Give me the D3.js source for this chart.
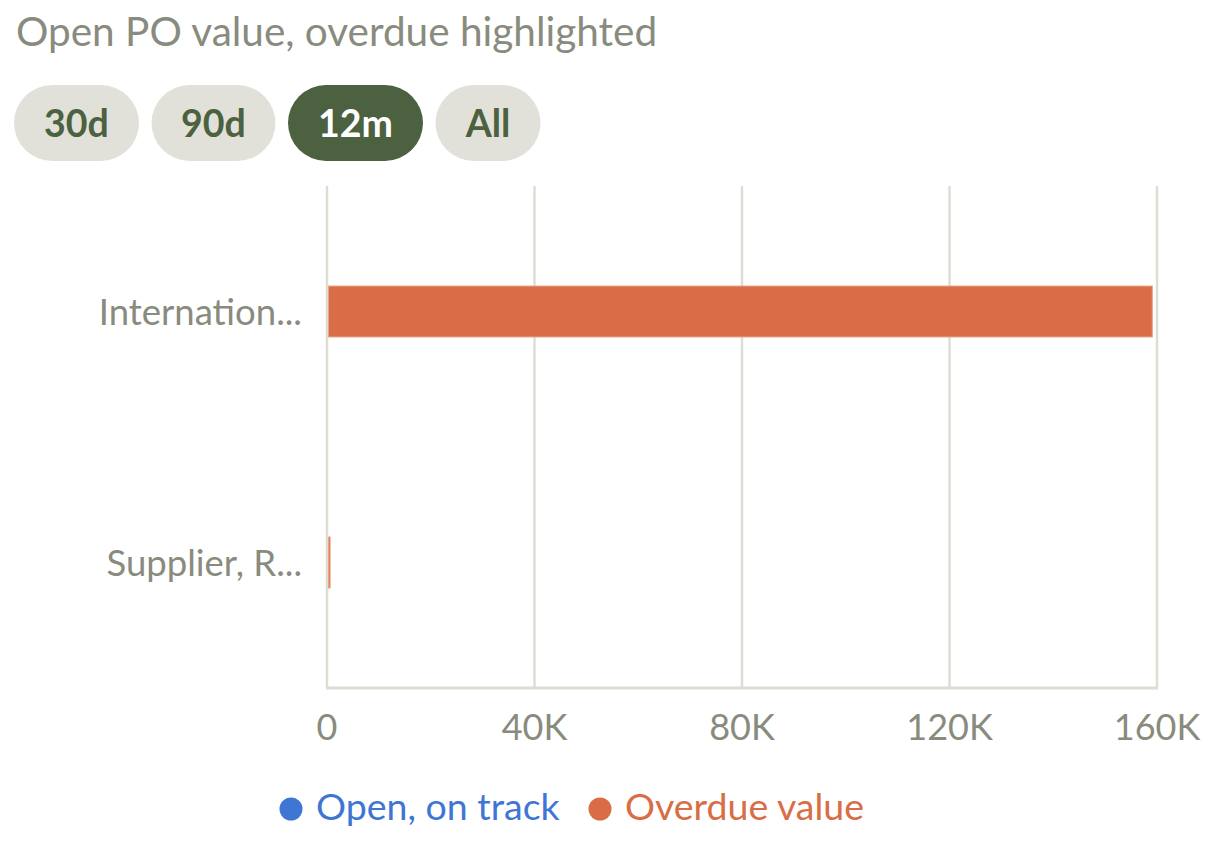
<!DOCTYPE html>
<html>
<head>
<meta charset="utf-8">
<script src="https://cdn.jsdelivr.net/npm/d3@7"></script>
<style>
  html, body { margin: 0; padding: 0; background: #ffffff; }
  svg { display: block; font-family: Lato, "Open Sans", sans-serif; }
</style>
</head>
<body>
<svg id="chart" width="1216" height="850"></svg>
<script>
const title = "Open PO value, overdue highlighted";
const ranges = ["30d", "90d", "12m", "All"];
const activeRange = "12m";
const categories = ["Internation...", "Supplier, R..."];
const openOnTrack = [0, 0];
const overdueValue = [159000, 500];
const xTicks = [0, 40000, 80000, 120000, 160000];
const xTickLabels = ["0", "40K", "80K", "120K", "160K"];
const seriesNames = ["Open, on track", "Overdue value"];
const seriesColors = ["#3f76d4", "#d96d45"];

const svg = d3.select("#chart");
const gridColor = "#deddd3";
const textGrey = "#888b7d";

// Title
svg.append("text").attr("x", 16).attr("y", 46)
  .attr("font-size", 40.5).attr("fill", textGrey).text(title);

// Range pills
const pillWidths = [125, 124, 135, 105];
let px = 14;
ranges.forEach((r, i) => {
  const w = pillWidths[i];
  const active = r === activeRange;
  svg.append("rect").attr("x", px).attr("y", 85).attr("width", w).attr("height", 76)
    .attr("rx", 38).attr("fill", active ? "#4b6140" : "#e2e1d9");
  svg.append("text").attr("x", px + w / 2).attr("y", 137).attr("text-anchor", "middle")
    .attr("font-size", 37.5).attr("font-weight", 700)
    .attr("fill", active ? "#ffffff" : "#4b6140").text(r);
  px += w + 12.5;
});

// Scales
const x = d3.scaleLinear().domain([0, 160000]).range([327, 1157]);
const y = d3.scaleBand().domain(categories).range([186, 688]).padding(0);
const barH = y.bandwidth() * 0.203;

// Grid lines
svg.append("g").selectAll("line").data(xTicks).join("line")
  .attr("x1", d => x(d)).attr("x2", d => x(d))
  .attr("y1", 186).attr("y2", 688)
  .attr("stroke", gridColor).attr("stroke-width", 2.5);

// Bottom axis line
svg.append("line").attr("x1", x(0) - 1).attr("x2", x(160000) + 1)
  .attr("y1", 688).attr("y2", 688).attr("stroke", gridColor).attr("stroke-width", 3);

// Bars (stacked: open then overdue)
const rows = categories.map((c, i) => ({ c, open: openOnTrack[i], over: overdueValue[i] }));
svg.append("g").selectAll("rect.open").data(rows).join("rect")
  .attr("x", d => x(0) + 1)
  .attr("y", d => y(d.c) + y.bandwidth() / 2 - barH / 2)
  .attr("width", d => Math.max(0, x(d.open) - x(0)))
  .attr("height", barH)
  .attr("fill", seriesColors[0]);
svg.append("g").selectAll("rect.over").data(rows).join("rect")
  .attr("x", d => x(d.open) + 1.5)
  .attr("y", d => y(d.c) + y.bandwidth() / 2 - barH / 2)
  .attr("width", d => Math.max(1.5, x(d.open + d.over) - x(d.open) - 1))
  .attr("height", barH)
  .attr("fill", seriesColors[1])
  .attr("stroke", "#eba486").attr("stroke-width", 1);

// Y labels
svg.append("g").selectAll("text").data(categories).join("text")
  .attr("x", 302).attr("y", d => y(d) + y.bandwidth() / 2)
  .attr("dy", "0.36em").attr("text-anchor", "end")
  .attr("font-size", 36.5).attr("fill", textGrey).text(d => d);

// X tick labels
svg.append("g").selectAll("text").data(xTicks).join("text")
  .attr("x", d => x(d)).attr("y", 740).attr("text-anchor", "middle")
  .attr("font-size", 36).attr("fill", textGrey).text((d, i) => xTickLabels[i]);

// Legend
const legendX = [291, 600];
seriesNames.forEach((s, i) => {
  svg.append("circle").attr("cx", legendX[i]).attr("cy", 809).attr("r", 11.5)
    .attr("fill", seriesColors[i]);
  svg.append("text").attr("x", legendX[i] + 25).attr("y", 820)
    .attr("font-size", 37.5).attr("fill", seriesColors[i]).text(s);
});
</script>
</body>
</html>
